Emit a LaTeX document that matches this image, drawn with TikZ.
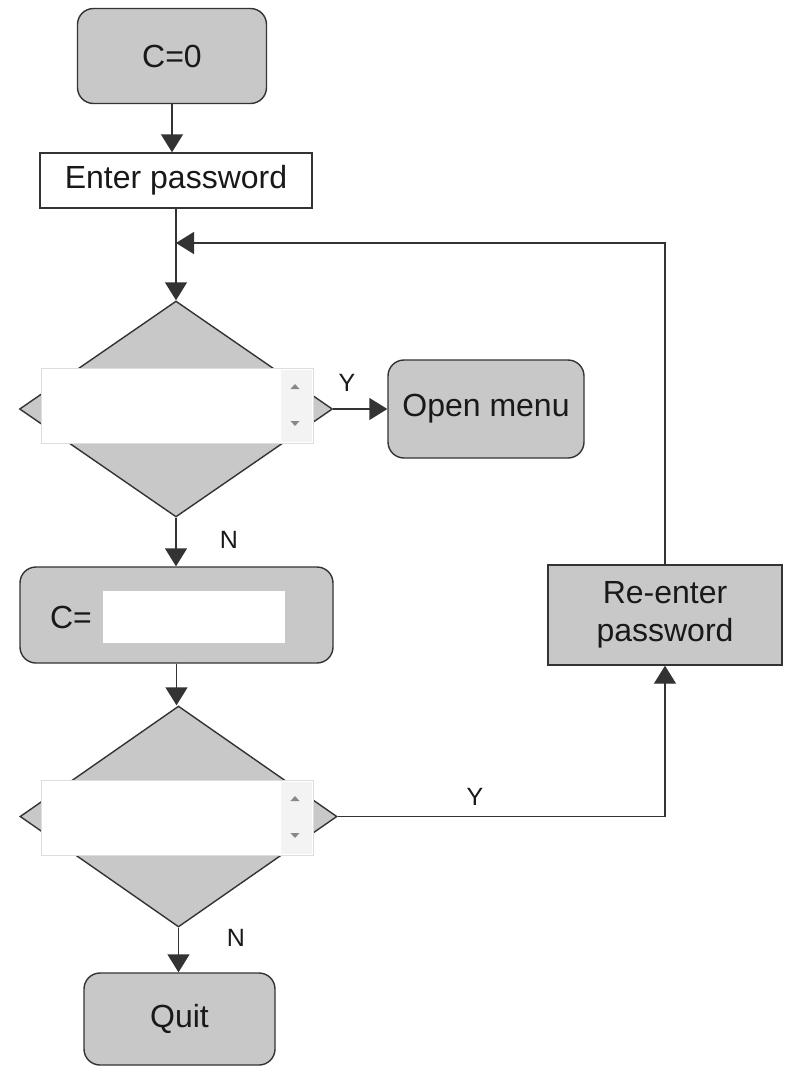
\documentclass[tikz,border=0pt]{standalone}
\usepackage{fontspec}
\setmainfont{Liberation Sans}
\usetikzlibrary{shapes.geometric,arrows.meta}
\definecolor{boxgray}{HTML}{C8C8C8}
\definecolor{linec}{HTML}{333333}
\definecolor{fieldborder}{HTML}{DCDDE3}
\definecolor{spin}{HTML}{F3F3F3}
\definecolor{spintri}{HTML}{888888}
\begin{document}
\begin{tikzpicture}[x=1pt,y=-1pt,
  every node/.style={font=\fontsize{32}{38}\selectfont, text=black!90, inner sep=0pt},
  base/.style={draw=linec, line width=1.4pt},
  rbox/.style={base, fill=boxgray, rounded corners=16pt},
  sbox/.style={base, fill=boxgray},
  wbox/.style={base, fill=white},
  dec/.style={base, fill=boxgray, shape=diamond},
  field/.style={draw=fieldborder, fill=white, line width=1pt},
  spinbox/.style={fill=spin, draw=none},
  spinmark/.style={fill=spintri, draw=none},
  conn/.style={draw=linec, line width=1.4pt},
  arr/.style={conn, -{Triangle[length=18pt,width=22pt]}},
  lab/.style={font=\fontsize{25}{30}\selectfont}
]
\useasboundingbox (0,0) rectangle (788,1066);

% nodes
\node[rbox, minimum width=189pt, minimum height=95pt] (c0) at (172,56) {C=0};
\node[wbox, minimum width=272pt, minimum height=55pt] (enter) at (176,180.5) {Enter password};
\node[dec, minimum width=313pt, minimum height=216pt] (d1) at (176,409) {};
\node[rbox, minimum width=196pt, minimum height=98pt] (open) at (486,409) {Open menu};
\node[rbox, minimum width=313pt, minimum height=96pt] (cset) at (176.5,615) {};
\node (ceq) at (71,617) {C=};
\node[fill=white, minimum width=182pt, minimum height=52pt] (cfield) at (194,617) {};
\node[dec, minimum width=317pt, minimum height=221pt] (d2) at (178.5,816.5) {};
\node[sbox, minimum width=234pt, minimum height=100pt, align=center] (re) at (665,615) {Re-enter\\password};
\node[rbox, minimum width=191pt, minimum height=92pt] (quit) at (179.5,1019) {Quit};

% input fields inside the diamonds
\node[field, minimum width=272pt, minimum height=75pt] (f1) at (177,405.5) {};
\node[spinbox, minimum width=31pt, minimum height=72pt] (s1) at (296,405.5) {};
\node[spinmark, isosceles triangle, shape border rotate=90, minimum width=9pt, minimum height=5pt, isosceles triangle stretches] (u1) at (295,387) {};
\node[spinmark, isosceles triangle, shape border rotate=-90, minimum width=9pt, minimum height=5pt, isosceles triangle stretches] (v1) at (295,423) {};

\node[field, minimum width=272pt, minimum height=75pt] (f2) at (177,817.5) {};
\node[spinbox, minimum width=31pt, minimum height=72pt] (s2) at (296,817.5) {};
\node[spinmark, isosceles triangle, shape border rotate=90, minimum width=9pt, minimum height=5pt, isosceles triangle stretches] (u2) at (295,799) {};
\node[spinmark, isosceles triangle, shape border rotate=-90, minimum width=9pt, minimum height=5pt, isosceles triangle stretches] (v2) at (295,835) {};

% connectors
\coordinate (join) at (176,243);
\draw[arr] (c0.south) -- (c0.south |- enter.north);
\draw[arr] (enter.south) -- (d1.north);
\draw[arr] (re.north) |- (join);
\draw[arr] (d1.east) -- (open.west);
\node[lab] (y1) at (347,383) {Y};
\draw[arr] (d1.south) -- (d1.south |- cset.north);
\node[lab] (n1) at (229,540) {N};
\draw[arr] (cset.south) -- (cset.south |- d2.north);
\draw[arr] (d2.east) -| (re.south);
\node[lab] (y2) at (475,797) {Y};
\draw[arr] (d2.south) -- (d2.south |- quit.north);
\node[lab] (n2) at (236,938) {N};
\end{tikzpicture}
\end{document}
